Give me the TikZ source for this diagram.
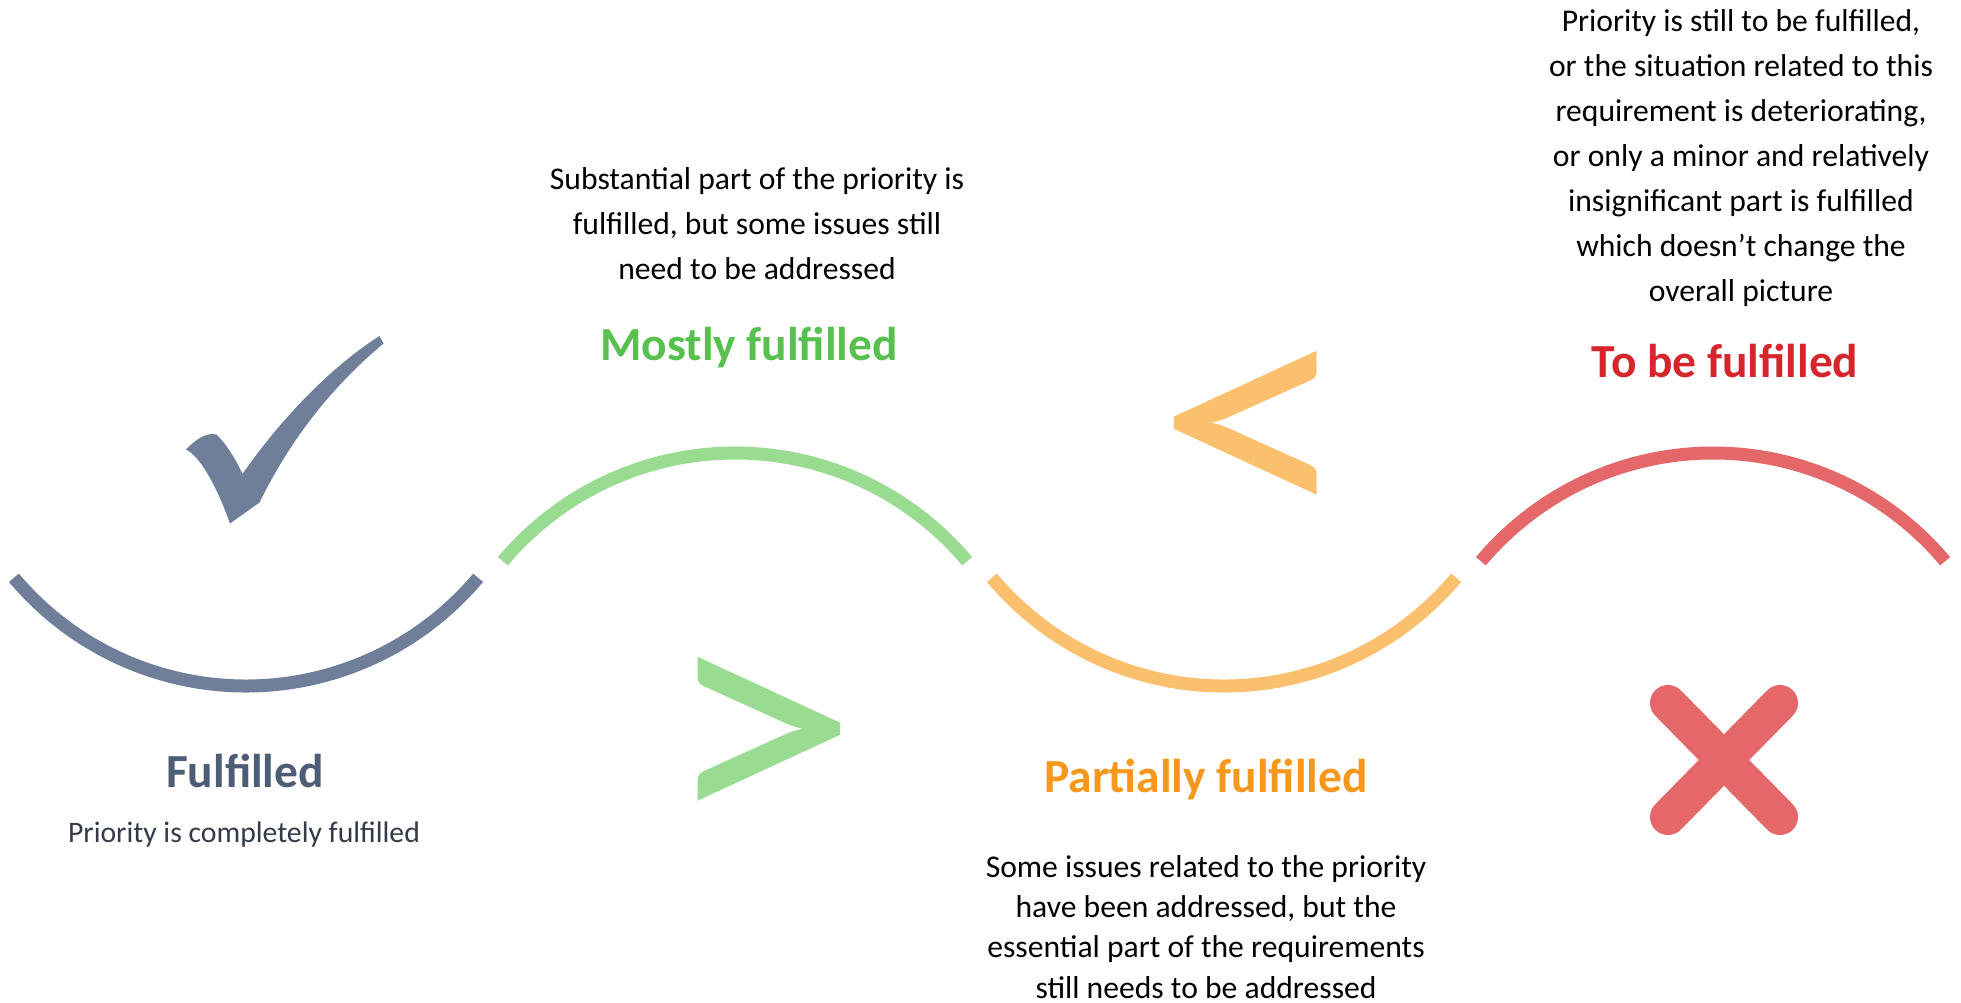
\documentclass[tikz,border=0pt]{standalone}
\usepackage{fontspec}
\setmainfont{Carlito}
\definecolor{RateSlate}{HTML}{6F7F99}
\definecolor{RateSlateDark}{HTML}{4E5D76}
\definecolor{RateInk}{HTML}{333B47}
\definecolor{RateGreen}{HTML}{9ADB92}
\definecolor{RateGreenDark}{HTML}{58C04F}
\definecolor{RateOrange}{HTML}{FBC06E}
\definecolor{RateOrangeDark}{HTML}{F7981D}
\definecolor{RateRed}{HTML}{E4686A}
\definecolor{RateRedDark}{HTML}{D4262C}

\begin{document}
\begin{tikzpicture}[
      wave/.style={line width=0.26cm},
      title/.style={font=\fontsize{27}{32}\selectfont\bfseries,inner sep=0pt,anchor=base},
      body/.style={font=\fontsize{18}{25.6}\selectfont,align=center,inner sep=0pt,anchor=base},
      glyph/.style={font=\fontsize{198}{198}\selectfont,inner sep=0pt,xscale=1.125}]
    \useasboundingbox (0,0) rectangle (39.22,-20.06);
    % the wave: four arcs, down and up in turn
    \foreach \cx/\cy/\a/\b/\col in {4.92/-7.66/220/320/RateSlate,
        14.70/-15.12/140/40/RateGreen,24.48/-7.66/220/320/RateOrange,
        34.26/-15.12/140/40/RateRed}
      \draw[wave,draw=\col] (\cx,\cy) ++(\a:6.06) arc[start angle=\a,end angle=\b,radius=6.06];
    % check mark
    \fill[RateSlate] (4.60,-10.47) .. controls (4.40,-9.90) and (4.05,-9.15) .. (3.72,-8.99)
      .. controls (3.95,-8.75) and (4.15,-8.65) .. (4.33,-8.69)
      .. controls (4.50,-8.85) and (4.70,-9.15) .. (4.85,-9.48)
      .. controls (5.60,-8.40) and (6.60,-7.35) .. (7.59,-6.72) -- (7.67,-6.87)
      .. controls (6.80,-7.60) and (5.90,-8.60) .. (5.19,-10.05) -- cycle;
    % cross
    \draw[RateRed,line width=0.72cm,line cap=round] (33.36,-14.06) -- (35.60,-16.34)
      (35.60,-14.06) -- (33.36,-16.34);
    \node[glyph,text=RateGreen] (gt) at (15.22,-14.96) {>};
    \node[glyph,text=RateOrange] (lt) at (25.07,-8.84) {<};
    \node[title,text=RateSlateDark] (t1) at (4.90,-15.74) {Fulfilled};
    \node[body,text=RateInk,font=\fontsize{16.9}{20}\selectfont] (d1) at (4.88,-16.84) {Priority is completely fulfilled};
    \node[title,text=RateGreenDark] (t2) at (14.98,-7.20) {Mostly fulfilled};
    \node[body] (d2) at (15.14,-5.59) {Substantial part of the priority is\\fulfilled, but some issues still\\need to be addressed};
    \node[title,text=RateOrangeDark] (t3) at (24.12,-15.84) {Partially fulfilled};
    \node[body,font=\fontsize{18}{22.8}\selectfont] (d3) at (24.12,-19.96) {Some issues related to the priority\\have been addressed, but the\\essential part of the requirements\\still needs to be addressed};
    \node[title,text=RateRedDark] (t4) at (34.50,-7.54) {To be fulfilled};
    \node[body] (d4) at (34.82,-6.03) {Priority is still to be fulfilled,\\or the situation related to this\\requirement is deteriorating,\\or only a minor and relatively\\insignificant part is fulfilled\\which doesn’t change the\\overall picture};
  \end{tikzpicture}
\end{document}
